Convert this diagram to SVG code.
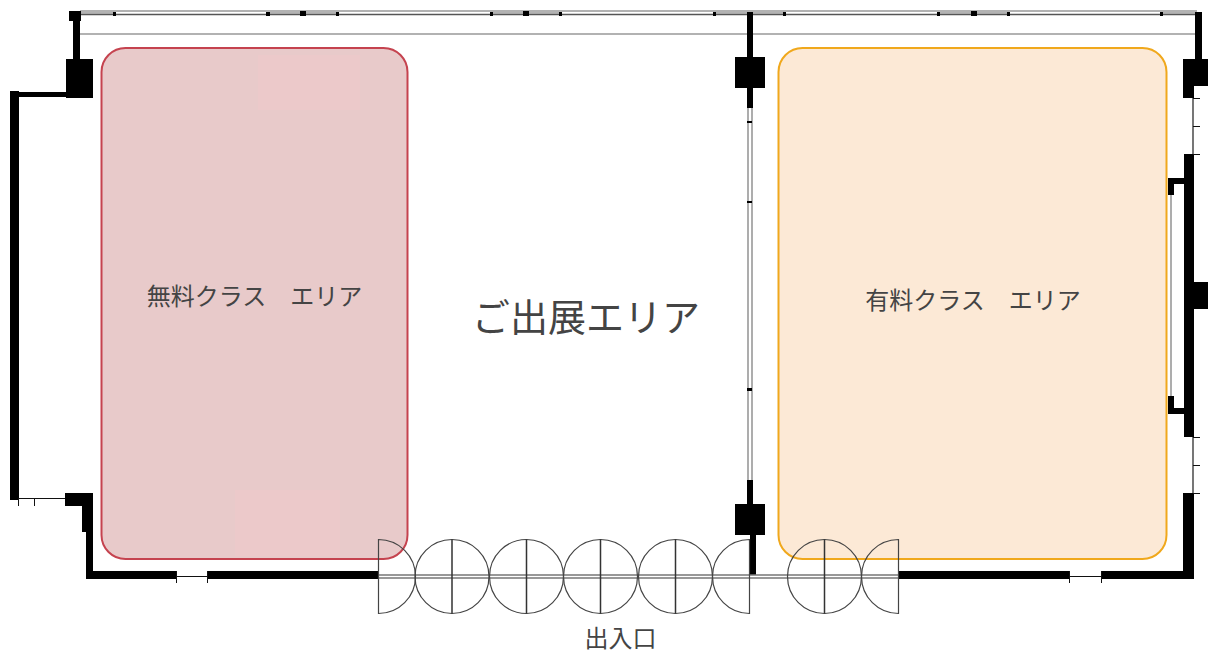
<svg xmlns="http://www.w3.org/2000/svg" width="1208" height="654" viewBox="0 0 1208 654">
<defs><style>
.w{fill:#000}
.g{stroke:#999;stroke-width:1.6;fill:none}
.d{stroke:#555;stroke-width:1.6;fill:none}
.t{stroke:#111;stroke-width:1;fill:none}
.door{stroke:#444;stroke-width:1.2;fill:none}
.dv{stroke:#333;stroke-width:1.5;fill:none}
.lab{font-family:"Noto Sans CJK JP","Noto Sans",sans-serif;fill:#444}
</style></defs>
<rect width="1208" height="654" fill="#fff"/>
<g id="walls">
<path class="g" d="M80 11H1197M80 34H1195"/>
<path class="d" d="M80 14.500H1197"/>
<path stroke="#999" stroke-width="1.500" fill="none" d="M80 13H115M268 13H338M492 13H561M715 13H785M939 13H1009M1162 13H1197"/>
<path class="w" d="M69 11H81V21H80V59H93V98H66V97H19V500H10V91H19V92H66V59H73V21H69Z"/>
<path class="w" d="M10 494H19V500H10ZM65 493H93V571H176V579H86V532H82V506H65Z"/>
<path class="w" d="M207 571H378V579H207ZM899 571H1069V579H899ZM1101 571H1183V493H1194V579H1101Z"/>
<path class="t" d="M176 576.500H207M1069 576.500H1101M18 498.500H65"/>
<path class="t" d="M18.500 498V506M34.500 498V506M176.500 571V583M207.500 571V583M1069.500 571V583M1101.500 571V583M1193 493.500H1200"/>
<path class="w" d="M747 12H753V57H765V88H753V108H747V88H735V57H747ZM747 480H753V504H765V535H756V575H750V535H735V504H747Z"/>
<path class="g" d="M748 108V480M752 108V480"/>
<path class="w" d="M747 121H752V123H747ZM747 201H752V203H747ZM747 388H752V391H747Z"/>
<path class="w" d="M1195 12H1202V59H1208V86H1194V98H1183V59H1195ZM1184 154H1194V282H1208V309H1194V437H1184ZM1168 178H1184V184H1174V195H1168ZM1168 396H1174V408H1184V414H1168Z"/>
<path class="d" d="M1193 98V154M1193 437V493"/>
<path class="t" d="M1193 98.500H1200M1193 126.500H1200M1193 154.500H1200M1193 437.500H1200M1193 465.500H1200"/>
<path class="g" d="M1171 195V396"/>
<path class="w" d="M113 12H116V16H113ZM266 12H270V16H266ZM300 11H306V16H300ZM336 12H339V16H336ZM490 12H493V16H490ZM523 11H529V16H523ZM559 12H562V16H559ZM713 12H716V16H713ZM783 12H786V16H783ZM937 12H940V16H937ZM971 11H977V16H971ZM1007 12H1010V16H1007ZM1160 12H1163V16H1160Z"/>
</g>
<g id="area-free">
<rect x="101.500" y="48" width="306" height="511" rx="24" fill="#e8caca" stroke="#c5434f" stroke-width="2"/>
<rect x="258" y="55" width="102" height="55" fill="#ecc9ca"/>
<rect x="235" y="490" width="105" height="66" fill="#ecc9ca"/>
<text class="lab" x="254.500" y="305" font-size="24" text-anchor="middle">無料クラス　エリア</text>
</g>
<g id="area-paid">
<rect x="778.500" y="48" width="388" height="511" rx="24" fill="#fce9d6" stroke="#f0a81c" stroke-width="2"/>
<text class="lab" x="973" y="309" font-size="24" text-anchor="middle">有料クラス　エリア</text>
</g>
<g id="area-exhibit">
<text class="lab" x="586" y="331" font-size="38" text-anchor="middle">ご出展エリア</text>
</g>
<g id="doors">
<path stroke="#777" stroke-width="1.300" fill="none" d="M378 575H899M378 578H899"/>
<path class="door" d="M378.500 539.500A37 37 0 0 1 378.500 613.500ZM749.500 539.500A37 37 0 0 0 749.500 613.500ZM898.500 539.500A37 37 0 0 0 898.500 613.500Z"/>
<circle class="door" cx="452" cy="576.500" r="37"/>
<circle class="door" cx="526.500" cy="576.500" r="37"/>
<circle class="door" cx="600.500" cy="576.500" r="37"/>
<circle class="door" cx="675.500" cy="576.500" r="37"/>
<circle class="door" cx="824.500" cy="576.500" r="37"/>
<path class="dv" d="M452 539.500V613.500M526.500 539.500V613.500M600.500 539.500V613.500M675.500 539.500V613.500M824.500 539.500V613.500"/>
<text class="lab" x="620.500" y="647" font-size="24" text-anchor="middle">出入口</text>
</g>
</svg>
